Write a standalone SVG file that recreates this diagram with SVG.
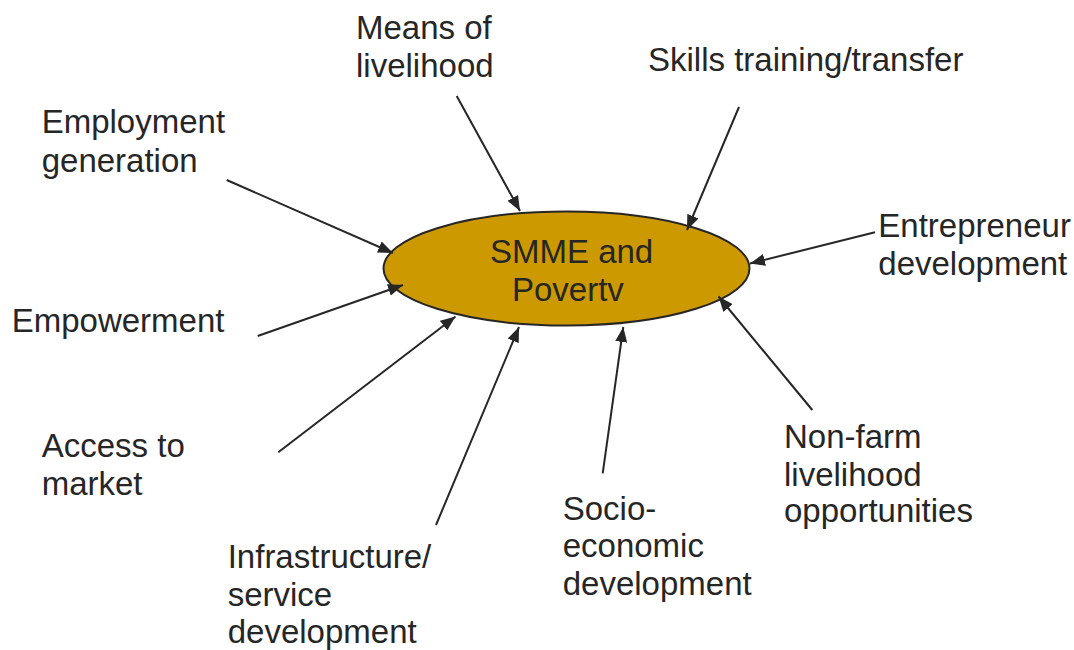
<svg xmlns="http://www.w3.org/2000/svg" width="1074" height="650" viewBox="0 0 1074 650">
<style>
.lbl{font-family:"Liberation Sans",Arial,sans-serif;font-size:33px;fill:#262626}
.conn{stroke:#262626;stroke-width:2;fill:none;marker-end:url(#ah)}
</style>
<defs>
<marker id="ah" viewBox="0 0 15 12" refX="15" refY="6" markerWidth="15" markerHeight="12" markerUnits="userSpaceOnUse" orient="auto">
<path d="M0,0 L15,6 L0,12 z" fill="#262626"/>
</marker>
</defs>
<rect width="1074" height="650" fill="#ffffff"/>
<g id="center">
<ellipse cx="566.5" cy="268.5" rx="183" ry="57" fill="#CC9900" stroke="#262626" stroke-width="2"/>
<text class="lbl" x="490" y="263">SMME and</text>
<text class="lbl" x="512" y="301">Povertv</text>
</g>
<g id="connectors">
<line class="conn" x1="456.7" y1="96" x2="520" y2="211"/>
<line class="conn" x1="739" y1="107" x2="687" y2="230"/>
<line class="conn" x1="226.7" y1="180" x2="393" y2="253"/>
<line class="conn" x1="875" y1="232.3" x2="750" y2="263.5"/>
<line class="conn" x1="257.7" y1="336" x2="403" y2="285"/>
<line class="conn" x1="278.3" y1="452.3" x2="455.5" y2="316.5"/>
<line class="conn" x1="436" y1="525" x2="519" y2="327"/>
<line class="conn" x1="602.7" y1="473.3" x2="623.3" y2="327"/>
<line class="conn" x1="812.3" y1="410" x2="718.5" y2="296.5"/>
</g>
<g id="means"><text class="lbl" x="356" y="39">Means of</text><text class="lbl" x="356" y="77">livelihood</text></g>
<g id="skills"><text class="lbl" x="648" y="71">Skills training/transfer</text></g>
<g id="employment"><text class="lbl" x="41.7" y="133.3">Employment</text><text class="lbl" x="41.7" y="171.7">generation</text></g>
<g id="entrepreneur"><text class="lbl" x="878.3" y="237.3">Entrepreneur</text><text class="lbl" x="878.3" y="275.3">development</text></g>
<g id="empowerment"><text class="lbl" x="11.7" y="332">Empowerment</text></g>
<g id="access"><text class="lbl" x="41.7" y="456.7">Access to</text><text class="lbl" x="41.7" y="495">market</text></g>
<g id="infrastructure"><text class="lbl" x="227.7" y="568.3">Infrastructure/</text><text class="lbl" x="227.7" y="606">service</text><text class="lbl" x="227.7" y="643.3">development</text></g>
<g id="socio"><text class="lbl" x="562.7" y="520">Socio-</text><text class="lbl" x="562.7" y="557.3">economic</text><text class="lbl" x="562.7" y="595">development</text></g>
<g id="nonfarm"><text class="lbl" x="784" y="447.7">Non-farm</text><text class="lbl" x="784" y="485.7">livelihood</text><text class="lbl" x="784" y="522.3">opportunities</text></g>
</svg>
